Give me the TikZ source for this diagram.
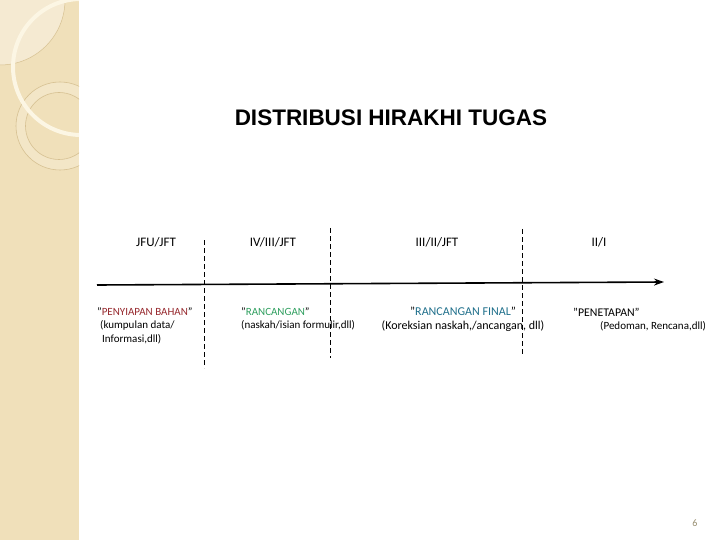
\documentclass[tikz,border=0pt]{standalone}
\usepackage{fontspec}
\setmainfont{Carlito}
\newfontfamily\titlefont{Liberation Sans}
\usepackage{xcolor}
\usepackage{tikz}
\usetikzlibrary{arrows.meta}

\definecolor{sand}{RGB}{240,224,186}
\definecolor{sandline}{RGB}{214,192,145}
\definecolor{cream}{RGB}{252,246,228}
\definecolor{bahan}{RGB}{150,40,45}
\definecolor{rancangan}{RGB}{46,158,94}
\definecolor{final}{RGB}{31,111,139}
\definecolor{pagenum}{RGB}{150,140,110}

\begin{document}
\begin{tikzpicture}[x=1pt,y=-1pt,
    rank/.style={font=\fontsize{13}{15}\selectfont},
    note/.style={font=\fontsize{11}{13.5}\selectfont, align=left, anchor=north west, inner sep=0pt},
    divider/.style={dash pattern=on 5pt off 3pt, line width=0.8pt}]
      \useasboundingbox (0,0) rectangle (720,540);
      % side band
      \fill[sand] (0,0) rectangle (79,540);
      \begin{scope}
        \clip (0,0) rectangle (79,540);
        \fill[white, opacity=0.35] (0,0) circle (65pt);
        \draw[sandline, line width=0.5pt] (0,0) circle (65pt);
        \fill[white, opacity=0.2, even odd rule] (60,126) circle (44pt) (59,126) circle (33.5pt);
        \draw[sandline, line width=0.6pt] (60,126) circle (44pt) (59,126) circle (33.5pt);
        \draw[cream, line width=4pt] (81,67) circle (68pt);
      \end{scope}
      \node[font=\titlefont\bfseries\fontsize{22.5}{24}\selectfont] (title) at (391,118) {DISTRIBUSI HIRAKHI TUGAS};
      \node[rank] (jfu) at (156,242) {JFU/JFT};
      \node[rank] (four) at (273,242) {IV/III/JFT};
      \node[rank] (three) at (437,242) {III/II/JFT};
      \node[rank] (two) at (599,242) {II/I};
      % time line
      \coordinate (start) at (97,285);
      \coordinate (end) at (664,282);
      \draw[line width=1.6pt, -{Stealth[length=10pt,width=7pt]}] (start) -- (end);
      \coordinate (d1top) at (204,240);
      \coordinate (d1bot) at (204,368);
      \coordinate (d2top) at (330,228);
      \coordinate (d2bot) at (330,358);
      \coordinate (d3top) at (522,229);
      \coordinate (d3bot) at (522,356);
      \draw[divider] (d1top) -- (d1bot);
      \draw[divider] (d2top) -- (d2bot);
      \draw[divider] (d3top) -- (d3bot);
      \node[note] (bahan) at (97,307.5) {"{\color{bahan}PENYIAPAN BAHAN}”\\\hspace*{3pt}(kumpulan data/\\\hspace*{5pt}Informasi,dll)};
      \node[note] (draft) at (241,307.5) {"{\color{rancangan}RANCANGAN}”\\(naskah/isian formulir,dll)};
      \node[note, align=center, anchor=north, font=\fontsize{12}{13.5}\selectfont] (final) at (463,307) {"{\color{final}RANCANGAN FINAL}”\\(Koreksian naskah,/ancangan, dll)};
      \node[note] (tetap) at (573,307.5) {{\fontsize{11.8}{13.5}\selectfont"PENETAPAN”}\\\hspace*{27pt}(Pedoman, Rencana,dll)};
      \node[font=\fontsize{10}{12}\selectfont, text=pagenum] (page) at (695,523) {6};
    \end{tikzpicture}
\end{document}
